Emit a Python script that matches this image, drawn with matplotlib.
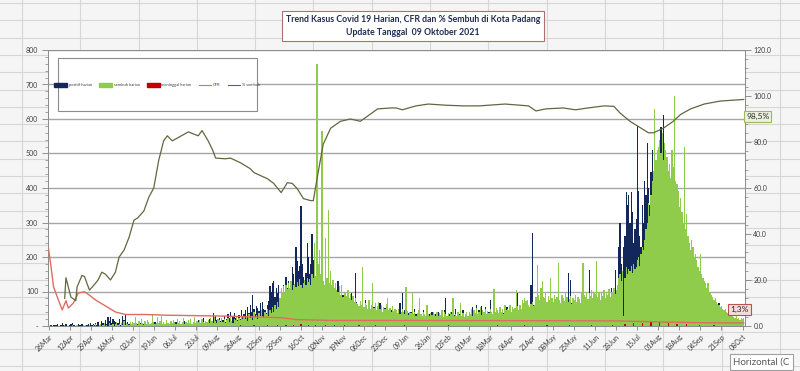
import matplotlib.pyplot as plt
from matplotlib.patches import Patch, Rectangle
from matplotlib.lines import Line2D
import numpy as np
import pandas as pd

plt.rcParams['font.family'] = ['Lato', 'DejaVu Sans']

# data (daily, starting 26 Mar 2020)
tanggal_awal = "2020-03-26"

positif_harian = [
    1, 0, 3, 0, 2, 4,  # Mar 2020
    2, 5, 1, 0, 3, 8, 4, 2, 6, 1, 0, 3, 5, 9, 2, 4, 1, 0, 6, 3, 2, 7, 4, 1, 0, 3, 5, 2, 8, 4,
    6, 3, 10, 4, 12, 2, 5, 14, 8, 3, 18, 6, 25, 14, 27, 9, 20, 15, 13, 5, 10, 21, 4, 8, 30, 16, 32, 3, 12, 7, 9,
    5, 2, 8, 3, 0, 6, 4, 10, 2, 5, 7, 1, 3, 9, 4, 6, 2, 0, 5, 11, 3, 7, 2, 4, 8, 1, 6, 3, 9, 2,
    4, 7, 2, 9, 3, 5, 12, 6, 1, 8, 4, 10, 3, 15, 6, 2, 9, 5, 11, 4, 7, 13, 3, 6, 18, 8, 5, 10, 22, 7, 14,
    12, 9, 20, 15, 8, 38, 25, 30, 18, 10, 22, 14, 9, 16, 28, 12, 19, 35, 24, 40, 15, 30, 38, 22, 26, 17, 32, 20, 45, 28, 36,
    45, 30, 55, 38, 62, 40, 90, 48, 35, 58, 52, 44, 66, 39, 70, 48, 45, 38, 60, 72, 115, 98, 125, 130, 85, 110, 96, 120, 78, 108,
    95, 120, 80, 143, 110, 130, 105, 120, 170, 150, 120, 228, 187, 160, 175, 348, 180, 143, 125, 155, 240, 200, 150, 180, 268, 190, 140, 120, 155, 130, 110,
    105, 90, 120, 85, 110, 75, 95, 100, 70, 88, 65, 92, 80, 60, 130, 72, 85, 55, 90, 68, 75, 50, 82, 60, 70, 95, 58, 65, 153, 70,
    55, 40, 62, 35, 48, 30, 75, 42, 38, 50, 28, 45, 33, 55, 40, 25, 48, 35, 66, 30, 42, 28, 52, 36, 24, 40, 30, 45, 22, 35, 28,
    30, 25, 40, 66, 35, 95, 28, 45, 32, 20, 38, 26, 42, 30, 22, 48, 35, 28, 40, 25, 33, 18, 45, 30, 26, 38, 22, 35, 28, 40, 24,  # Jan 2021
    26, 35, 20, 42, 30, 18, 38, 25, 45, 81, 30, 22, 35, 28, 40, 20, 32, 50, 26, 18, 36, 24, 30, 45, 22, 28, 35, 20,
    30, 25, 40, 55, 28, 35, 60, 22, 45, 30, 58, 26, 38, 55, 32, 28, 40, 75, 35, 24, 30, 42, 28, 36, 20, 45, 32, 26, 38, 30, 55,
    55, 30, 42, 28, 36, 50, 32, 45, 95, 38, 26, 40, 30, 48, 35, 28, 42, 36, 50, 120, 269, 60, 45, 38, 52, 30, 44, 36, 40, 32,
    40, 55, 32, 48, 60, 139, 45, 38, 52, 35, 55, 42, 30, 48, 36, 58, 40, 62, 45, 153, 70, 133, 66, 50, 42, 38, 55, 35, 48, 40, 52,
    45, 60, 38, 52, 48, 162, 55, 40, 66, 42, 58, 35, 50, 62, 45, 70, 48, 55, 40, 65, 52, 80, 60, 110, 75, 90, 162, 85, 120, 228,
    300, 180, 150, 228, 260, 388, 350, 380, 300, 388, 330, 240, 280, 310, 580, 390, 260, 228, 350, 300, 420, 380, 529, 400, 350, 445, 509, 420, 380, 460, 480,
    450, 520, 576, 400, 613, 380, 350, 300, 420, 280, 220, 310, 260, 240, 200, 280, 220, 190, 170, 200, 150, 160, 130, 140, 110, 120, 95, 100, 85, 90, 75,
    80, 70, 65, 75, 60, 55, 68, 50, 45, 58, 40, 48, 35, 42, 38, 30, 45, 28, 66, 32, 25, 30, 22, 28, 20, 25, 18, 22, 15, 20,
    15, 12, 18, 10, 14, 8, 12, 9, 11,  # Oct 2021
]

sembuh_harian = [
    0, 0, 0, 0, 0, 0,  # Mar 2020
    0, 0, 0, 1, 0, 0, 0, 2, 0, 0, 1, 0, 0, 3, 0, 0, 0, 2, 0, 1, 0, 0, 4, 0, 2, 0, 0, 3, 1, 0,
    2, 0, 5, 1, 0, 3, 6, 0, 2, 8, 1, 4, 0, 10, 3, 2, 7, 0, 5, 12, 3, 6, 1, 9, 4, 15, 2, 8, 5, 3, 11,
    5, 12, 8, 27, 10, 4, 15, 6, 20, 9, 3, 14, 7, 18, 11, 5, 9, 32, 12, 6, 8, 25, 10, 14, 30, 7, 12, 5, 16, 9,
    10, 6, 14, 8, 18, 12, 5, 20, 9, 15, 7, 11, 22, 6, 13, 8, 16, 10, 19, 7, 12, 25, 9, 14, 11, 18, 8, 20, 13, 10, 15,
    12, 18, 9, 22, 15, 10, 25, 14, 8, 20, 16, 11, 24, 13, 19, 9, 17, 22, 12, 28, 15, 10, 20, 18, 26, 14, 22, 16, 30, 20, 25,
    20, 28, 15, 35, 22, 30, 18, 40, 25, 32, 20, 38, 28, 45, 30, 25, 42, 35, 50, 30, 45, 38, 55, 40, 60, 48, 70, 55, 80, 110,
    100, 115, 95, 120, 108, 125, 110, 130, 105, 118, 122, 112, 128, 115, 135, 120, 110, 125, 132, 118, 140, 128, 135, 120, 150, 138, 240, 145, 760, 180, 220,
    150, 566, 130, 120, 254, 140, 335, 125, 160, 118, 133, 110, 124, 105, 98, 115, 90, 120, 85, 100, 95, 88, 105, 80, 92, 75, 88, 70, 82, 68,
    65, 58, 72, 60, 170, 55, 68, 62, 50, 75, 48, 60, 124, 52, 66, 45, 58, 70, 50, 62, 42, 55, 48, 64, 81, 46, 52, 40, 58, 44, 50,
    45, 38, 50, 35, 42, 48, 40, 36, 113, 44, 32, 40, 38, 95, 35, 42, 30, 38, 45, 81, 34, 28, 40, 36, 30, 61, 35, 28, 38, 32, 40,  # Jan 2021
    35, 30, 42, 28, 38, 32, 45, 26, 40, 34, 30, 38, 28, 42, 35, 81, 30, 36, 28, 40, 32, 66, 30, 38, 26, 34, 40, 30,
    40, 35, 48, 30, 45, 38, 52, 36, 42, 55, 33, 46, 40, 50, 35, 44, 38, 48, 42, 36, 107, 40, 52, 45, 38, 55, 42, 48, 36, 60, 45,
    50, 45, 60, 42, 55, 48, 52, 104, 58, 45, 62, 50, 75, 68, 80, 72, 75, 60, 55, 65, 70, 58, 62, 85, 176, 90, 75, 110, 130, 85,
    80, 95, 70, 88, 75, 139, 82, 70, 90, 78, 85, 182, 75, 68, 90, 80, 72, 95, 85, 70, 78, 88, 65, 82, 75, 90, 70, 85, 78, 68, 95,
    182, 90, 85, 100, 78, 95, 88, 105, 80, 98, 92, 187, 85, 100, 76, 95, 88, 104, 82, 98, 90, 106, 85, 100, 95, 110, 92, 105, 120, 140,
    150, 130, 160, 29, 140, 170, 150, 165, 160, 175, 155, 180, 165, 170, 190, 200, 175, 210, 230, 220, 250, 280, 300, 356, 320, 380, 420, 450, 630, 480, 510,
    520, 540, 500, 560, 480, 530, 510, 490, 450, 470, 430, 509, 460, 668, 420, 413, 390, 345, 370, 330, 300, 518, 280, 325, 260, 240, 220, 250, 230, 200, 210,
    190, 170, 160, 210, 150, 140, 130, 124, 110, 124, 100, 95, 90, 85, 75, 80, 70, 65, 60, 55, 58, 50, 45, 48, 40, 37, 35, 30, 32, 28,
    25, 22, 28, 20, 24, 18, 22, 20, 23,  # Oct 2021
]

meninggal_tanggal = [
    "2020-03-29", "2020-04-02", "2020-04-09", "2020-04-20", "2020-05-05", "2020-05-18",
    "2020-06-10", "2020-07-22", "2020-08-14", "2020-08-28", "2020-09-08", "2020-09-19",
    "2020-09-27", "2020-10-04", "2020-10-10", "2020-10-16", "2020-10-22", "2020-10-28",
    "2020-11-05", "2020-11-12", "2020-11-20", "2020-12-02", "2020-12-15", "2021-01-08",
    "2021-01-25", "2021-02-12", "2021-03-05", "2021-03-24", "2021-04-15", "2021-05-03",
    "2021-05-21", "2021-06-08", "2021-06-25", "2021-07-05", "2021-07-12", "2021-07-19",
    "2021-07-26", "2021-08-02", "2021-08-09", "2021-08-16", "2021-08-24", "2021-09-03",
    "2021-09-15", "2021-09-28",
]
meninggal_jumlah = [
    1, 1, 1, 1, 1, 1,
    1, 1, 1, 2, 2, 3,
    2, 3, 4, 5, 4, 3,
    4, 3, 2, 3, 2, 2,
    1, 2, 1, 2, 2, 3,
    2, 3, 4, 6, 8, 10,
    12, 11, 9, 7, 5, 3,
    2, 1,
]

# CFR (%) and % sembuh, right axis; x = day number since 26 Mar 2020
cfr_hari_ke = [0, 2, 4, 7, 11, 14, 16, 20, 24, 29, 33, 38, 46, 54, 62, 78, 95, 119,
               143, 188, 200, 230, 300, 400, 460, 500, 530, 562]
cfr_persen = [33.3, 25.5, 17, 12.6, 7, 11, 7.8, 10, 14.3, 14.9, 13.4, 11.3, 8.7, 6.1,
              5.0, 5.0, 4.7, 4.5, 4.3, 3.6, 2.8, 2.4, 2.4, 2.3, 2.2, 1.7, 1.4, 1.3]

sembuh_hari_ke = [13, 14, 18, 22, 23, 27, 29, 33, 37, 40, 43, 46, 50, 54, 57, 61, 65, 69,
                  72, 77, 81, 85, 89, 93, 96, 100, 105, 113, 117, 121, 124, 129, 133,
                  135, 143, 147, 155, 163, 166, 177, 182, 188, 193, 197, 201, 206, 212,
                  214, 217, 220, 222, 228, 236, 244, 252, 258, 266, 277, 281, 286, 297,
                  307, 321, 335, 348, 369, 388, 394, 402, 416, 426, 436, 449, 457, 462,
                  470, 476, 485, 489, 497, 505, 511, 519, 530, 543, 562]
sembuh_persen = [12, 21, 12.6, 11, 17, 22, 21.5, 15.6, 18, 20, 23.4, 22.5, 20, 23.4, 30,
                 33, 38.5, 46, 47, 50, 56, 60, 72, 80.5, 82.7, 80.5, 82, 84.4, 83.5, 82.7,
                 85, 80.5, 76, 73, 72.7, 73, 71, 68.4, 66.7, 64, 62, 58, 62.3, 62, 59.7,
                 55.4, 54.5, 54.5, 64, 73, 79, 86, 89, 90, 89, 91.3, 94.4, 94.8, 94.8, 94,
                 95.7, 96.5, 96, 95.7, 95.7, 96.5, 95.7, 93.5, 94.4, 94.8, 94, 94.8, 95.7,
                 95.5, 92.6, 89, 87, 84, 84, 86, 89, 92, 94.4, 96.5, 97.8, 98.5]

NAVY = "#14275A"
GREEN = "#8FCC4C"
DARKRED = "#C00000"
CFR_RED = "#E36A62"
OLIVE = "#5F6840"
TXT = "#404040"

n_hari = len(positif_harian)
tanggal = pd.date_range(tanggal_awal, periods=n_hari, freq="D")
hari = np.arange(n_hari)
meninggal = np.zeros(n_hari)
idx = (pd.to_datetime(meninggal_tanggal) - tanggal[0]).days
meninggal[idx] = meninggal_jumlah

W, H = 800, 371
fig = plt.figure(figsize=(W / 100, H / 100), dpi=100)
fig.patch.set_facecolor("#F5F5F5")

# spreadsheet cells behind the chart
for y in np.arange(3, H, 17.3):
    fig.add_artist(Line2D([0, 1], [1 - y / H] * 2, transform=fig.transFigure,
                          color="#D6D6D6", lw=0.8, zorder=0))
for x in np.arange(430 - 58.3 * 8, W, 58.3):
    fig.add_artist(Line2D([x / W] * 2, [0, 1], transform=fig.transFigure,
                          color="#D6D6D6", lw=0.8, zorder=0))

ax = fig.add_axes([48 / W, 1 - 326 / H, 697 / W, 276 / H])
ax.set_facecolor("white")
ax.bar(hari, positif_harian, width=1.0, color=NAVY, linewidth=0, zorder=2)
ax.bar(hari, sembuh_harian, width=1.0, color=GREEN, linewidth=0, zorder=3)
ax.bar(hari, meninggal, width=1.0, color=DARKRED, linewidth=0, zorder=4)
ax.set_xlim(-0.5, n_hari)
ax.set_ylim(0, 800)
ax.yaxis.grid(True, color="#A6A6A6", lw=1.0)
ax.set_axisbelow(True)

ax.set_yticks(range(0, 801, 100))
ax.set_yticklabels(["-"] + [str(v) for v in range(100, 801, 100)])
ax.set_yticks(range(0, 801, 20), minor=True)
ax.set_xticks(hari[::17])
ax.set_xticklabels(tanggal[::17].strftime("%d%b"), rotation=45, ha="right",
                   rotation_mode="anchor")
ax.tick_params(axis="y", which="major", length=4, width=0.6, color="#808080",
               labelsize=5, labelcolor=TXT, pad=3)
ax.tick_params(axis="y", which="minor", length=2, width=0.5, color="#808080")
ax.tick_params(axis="x", length=3, width=0.6, color="#808080", labelsize=5,
               labelcolor=TXT, pad=2)
for s in ax.spines.values():
    s.set_color("#8C8C8C")
    s.set_linewidth(0.7)

ax2 = ax.twinx()
ax2.plot(cfr_hari_ke, cfr_persen, color=CFR_RED, lw=1.0, zorder=5)
ax2.plot(sembuh_hari_ke, sembuh_persen, color=OLIVE, lw=0.9, zorder=5)
ax2.set_ylim(0, 120)
ax2.set_yticks(range(0, 121, 20))
ax2.set_yticklabels([f"{v:.1f}" for v in range(0, 121, 20)])
ax2.set_yticks(range(0, 121, 4), minor=True)
ax2.tick_params(axis="y", which="major", length=4, width=0.6, color="#808080",
                labelsize=5, labelcolor=TXT, pad=2)
ax2.tick_params(axis="y", which="minor", length=2, width=0.5, color="#808080")
for s in ax2.spines.values():
    s.set_color("#8C8C8C")
    s.set_linewidth(0.7)

# end-value labels
ax2.annotate("98,5%", xy=(sembuh_hari_ke[-1], sembuh_persen[-1]), xytext=(10, -12),
             textcoords="offset points", ha="center", va="center", fontsize=6,
             color="#262626", annotation_clip=False, zorder=8,
             bbox=dict(boxstyle="square,pad=0.25", fc="#EBF1DE", ec="#9BBB59", lw=0.8))
ax2.annotate("1,3%", xy=(cfr_hari_ke[-1], cfr_persen[-1]), xytext=(-3, 9.5),
             textcoords="offset points", ha="center", va="center", fontsize=6,
             color="#262626", annotation_clip=False, zorder=8,
             bbox=dict(boxstyle="square,pad=0.25", fc="#F2DCDB", ec="#C0504D", lw=0.8))

# legend box
ax2.add_patch(Rectangle((0.014, 0.779), 0.286, 0.192, transform=ax2.transAxes,
                        facecolor="white", edgecolor="#8C8C8C", lw=0.8, zorder=6))
handles = [Patch(color=NAVY), Patch(color=GREEN), Patch(color=DARKRED),
           Line2D([], [], color=CFR_RED, lw=0.8), Line2D([], [], color=OLIVE, lw=0.8)]
labels = ["positif harian", "sembuh harian", "meninggal harian", "CFR", "% sembuh"]
leg = ax2.legend(handles, labels, loc="center", bbox_to_anchor=(0.157, 0.873), ncol=5,
                 fontsize=3.0, frameon=False, handlelength=3.0, handleheight=1.2,
                 handletextpad=0.4, columnspacing=1.8, labelcolor=TXT)
leg.set_zorder(7)

fig.text(413 / W, 1 - 26 / H,
         "Trend Kasus Covid 19 Harian, CFR dan % Sembuh di Kota Padang\n"
         "Update Tanggal  09 Oktober 2021",
         ha="center", va="center", ma="center", fontsize=6.3, fontweight="bold",
         color="#1F2D50", linespacing=1.5,
         bbox=dict(boxstyle="square,pad=0.45", fc="white", ec="#B07070", lw=0.8))

# Excel tooltip, cut off at the right edge in the screenshot
fig.text(733 / W, 1 - 362 / H, "Horizontal (C", ha="left", va="center",
         fontsize=7, color="#595959",
         bbox=dict(boxstyle="square,pad=0.35", fc="white", ec="#A0A0A0", lw=0.8))

fig.savefig("out.png", dpi=100, facecolor=fig.get_facecolor())
